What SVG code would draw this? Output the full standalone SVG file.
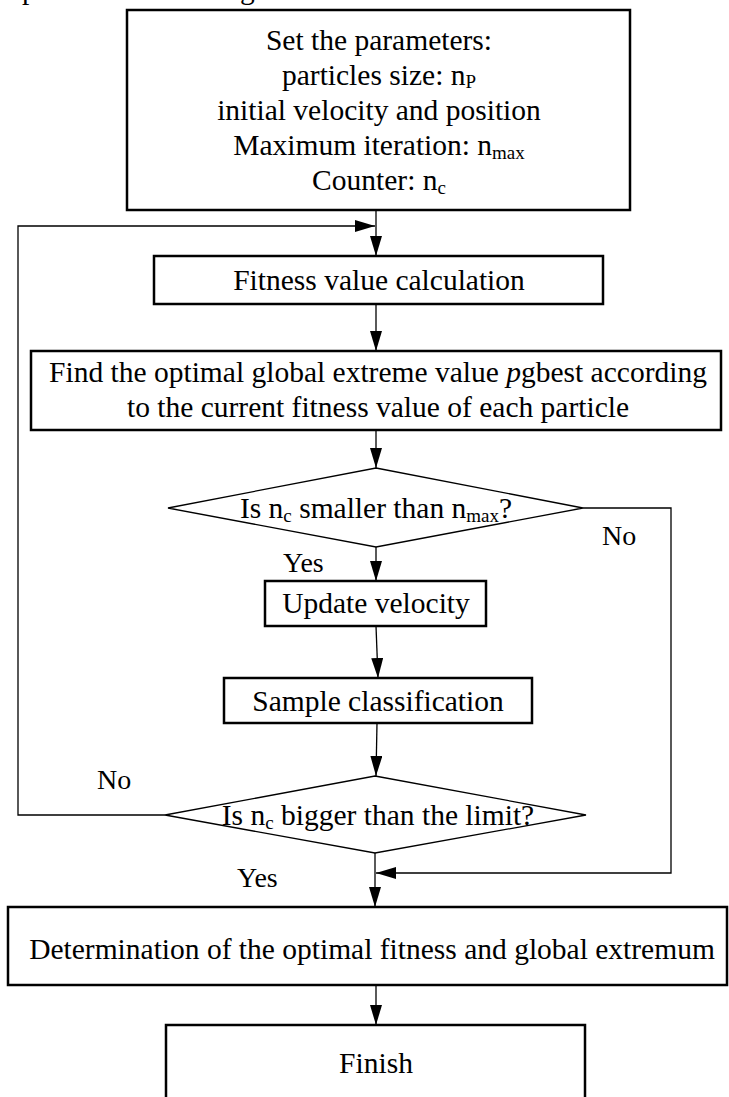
<svg xmlns="http://www.w3.org/2000/svg" width="729" height="1097" viewBox="0 0 729 1097">
<style>
.box{fill:#fff;stroke:#000;stroke-width:2.5}
.dia{fill:#fff;stroke:#000;stroke-width:1.3}
.con{fill:none;stroke:#000;stroke-width:1.3}
text{font-family:"Liberation Serif","Times New Roman",serif;font-size:29.5px;fill:#000}
.c{text-anchor:middle}
.lbl{font-size:28px}
.sub{font-size:19px}
</style>
<defs>
<marker id="ah" markerUnits="userSpaceOnUse" markerWidth="20" markerHeight="12" refX="20" refY="6" orient="auto">
<path d="M0,0 L20,6 L0,12 z" fill="#000"/>
</marker>
</defs>
<g id="caption-fragment">
<text x="22" y="-1">p</text>
<text x="240" y="-1">g</text>
</g>
<g id="connectors">
<line class="con" x1="376" y1="210" x2="376" y2="256" marker-end="url(#ah)"/>
<polyline class="con" points="165,815 18,815 18,226 375,226" marker-end="url(#ah)"/>
<line class="con" x1="376" y1="304" x2="376" y2="351" marker-end="url(#ah)"/>
<line class="con" x1="376" y1="430" x2="376" y2="468" marker-end="url(#ah)"/>
<line class="con" x1="376" y1="547" x2="376" y2="581" marker-end="url(#ah)"/>
<line class="con" x1="376" y1="626" x2="378" y2="678" marker-end="url(#ah)"/>
<line class="con" x1="377" y1="723" x2="376" y2="776" marker-end="url(#ah)"/>
<line class="con" x1="375" y1="853" x2="375" y2="907" marker-end="url(#ah)"/>
<polyline class="con" points="583,508 671,508 671,873 376,873" marker-end="url(#ah)"/>
<line class="con" x1="376" y1="985" x2="376" y2="1025" marker-end="url(#ah)"/>
</g>
<g id="labels">
<text class="lbl" x="97" y="789">No</text>
<text class="lbl" x="602" y="545">No</text>
<text class="lbl" x="283" y="572">Yes</text>
<text class="lbl" x="237" y="887">Yes</text>
</g>
<g id="n-init">
<rect class="box" x="127" y="10" width="503" height="200"/>
<text class="c" x="379" y="50">Set the parameters:</text>
<text class="c" x="379" y="85">particles size: n<tspan class="sub" dy="3">P</tspan></text>
<text class="c" x="379" y="120">initial velocity and position</text>
<text class="c" x="379" y="155">Maximum iteration: n<tspan class="sub" dy="4">max</tspan></text>
<text class="c" x="379" y="190">Counter: n<tspan class="sub" dy="4">c</tspan></text>
</g>
<g id="n-fitness">
<rect class="box" x="154" y="256" width="449" height="48"/>
<text class="c" x="379" y="290">Fitness value calculation</text>
</g>
<g id="n-find">
<rect class="box" x="31" y="351" width="690" height="79"/>
<text class="c" x="378" y="382">Find the optimal global extreme value <tspan font-style="italic">p</tspan>gbest according</text>
<text class="c" x="378" y="417">to the current fitness value of each particle</text>
</g>
<g id="n-dec1">
<polygon class="dia" points="376,468 583,508 376,547 168,508"/>
<text class="c" x="376" y="518">Is n<tspan class="sub" dy="4">c</tspan><tspan dy="-4"> smaller than n</tspan><tspan class="sub" dy="4">max</tspan><tspan dy="-4">?</tspan></text>
</g>
<g id="n-update">
<rect class="box" x="265" y="581" width="221" height="45"/>
<text class="c" x="376" y="613">Update velocity</text>
</g>
<g id="n-sample">
<rect class="box" x="224" y="678" width="308" height="45"/>
<text class="c" x="378" y="711">Sample classification</text>
</g>
<g id="n-dec2">
<polygon class="dia" points="375,776 586,815 375,853 165,815"/>
<text class="c" x="378" y="825">Is n<tspan class="sub" dy="4">c</tspan><tspan dy="-4"> bigger than the limit?</tspan></text>
</g>
<g id="n-determine">
<rect class="box" x="8" y="907" width="719" height="78"/>
<text class="c" x="372" y="959">Determination of the optimal fitness and global extremum</text>
</g>
<g id="n-finish">
<rect class="box" x="166" y="1025" width="419" height="90"/>
<text class="c" x="376" y="1073">Finish</text>
</g>
</svg>
